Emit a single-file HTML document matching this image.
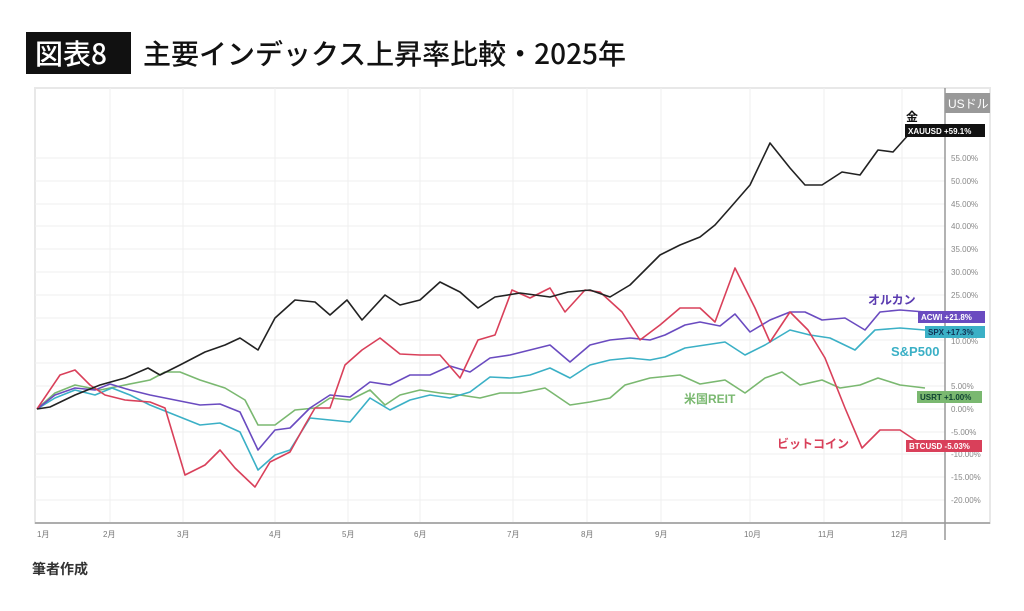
<!DOCTYPE html>
<html><head><meta charset="utf-8"><style>
body{margin:0;background:#fff;width:1024px;height:606px;overflow:hidden;font-family:"Liberation Sans","Noto Sans CJK JP",sans-serif;}
</style></head><body>
<svg width="1024" height="606" xmlns="http://www.w3.org/2000/svg" font-family="Liberation Sans, Noto Sans CJK JP, sans-serif">
<rect x="26" y="32" width="105" height="42" fill="#111"/>
<text x="35" y="64" font-size="28" fill="#fff" font-weight="500" font-family="Noto Sans CJK JP, sans-serif">図表8</text>
<text x="143" y="64" font-size="28" fill="#111" font-weight="500" font-family="Noto Sans CJK JP, sans-serif">主要インデックス上昇率比較・2025年</text>
<rect x="35" y="88" width="955" height="435" fill="none" stroke="#e8e8e8" stroke-width="2"/>
<g stroke="#efefef" stroke-width="1">
<line x1="110" y1="88" x2="110" y2="523"/><line x1="183" y1="88" x2="183" y2="523"/><line x1="275" y1="88" x2="275" y2="523"/><line x1="348" y1="88" x2="348" y2="523"/><line x1="420" y1="88" x2="420" y2="523"/><line x1="513" y1="88" x2="513" y2="523"/><line x1="587" y1="88" x2="587" y2="523"/><line x1="661" y1="88" x2="661" y2="523"/><line x1="750" y1="88" x2="750" y2="523"/><line x1="824" y1="88" x2="824" y2="523"/><line x1="902" y1="88" x2="902" y2="523"/>
<line x1="35" y1="158" x2="945" y2="158"/><line x1="35" y1="181" x2="945" y2="181"/><line x1="35" y1="204" x2="945" y2="204"/><line x1="35" y1="226" x2="945" y2="226"/><line x1="35" y1="249" x2="945" y2="249"/><line x1="35" y1="272" x2="945" y2="272"/><line x1="35" y1="295" x2="945" y2="295"/><line x1="35" y1="318" x2="945" y2="318"/><line x1="35" y1="340" x2="945" y2="340"/><line x1="35" y1="363" x2="945" y2="363"/><line x1="35" y1="386" x2="945" y2="386"/><line x1="35" y1="409" x2="945" y2="409"/><line x1="35" y1="432" x2="945" y2="432"/><line x1="35" y1="454" x2="945" y2="454"/><line x1="35" y1="477" x2="945" y2="477"/><line x1="35" y1="500" x2="945" y2="500"/>
</g>
<line x1="945" y1="88" x2="945" y2="540" stroke="#999" stroke-width="1.5"/>
<line x1="35" y1="523" x2="990" y2="523" stroke="#999" stroke-width="1.5"/>
<g font-size="8" fill="#777">
<text x="37" y="537">1月</text><text x="103" y="537">2月</text><text x="177" y="537">3月</text><text x="269" y="537">4月</text><text x="342" y="537">5月</text><text x="414" y="537">6月</text><text x="507" y="537">7月</text><text x="581" y="537">8月</text><text x="655" y="537">9月</text><text x="744" y="537">10月</text><text x="818" y="537">11月</text><text x="891" y="537">12月</text>
</g>
<g font-size="8" fill="#888">
<text x="951" y="161">55.00%</text><text x="951" y="184">50.00%</text><text x="951" y="207">45.00%</text><text x="951" y="229">40.00%</text><text x="951" y="252">35.00%</text><text x="951" y="275">30.00%</text><text x="951" y="298">25.00%</text><text x="951" y="344">10.00%</text><text x="951" y="389">5.00%</text><text x="951" y="412">0.00%</text><text x="951" y="435">-5.00%</text><text x="951" y="457">-10.00%</text><text x="951" y="480">-15.00%</text><text x="951" y="503">-20.00%</text>
</g>
<rect x="945" y="93" width="45" height="20" fill="#999"/>
<text x="948" y="108" font-size="12" fill="#fff">USドル</text>
<g fill="none" stroke-width="1.6" stroke-linejoin="round">
<polyline stroke="#7ab870" points="37,409 55,393 75,385 100,390 125,385 150,380 165,372 180,372 200,380 225,388 245,400 258,425 275,425 295,410 315,408 330,398 350,400 370,390 385,405 400,395 420,390 440,393 460,395 480,398 500,393 520,393 545,388 570,405 590,402 610,398 625,385 650,378 680,375 700,384 725,380 745,393 765,378 782,372 800,385 822,380 840,388 860,385 878,378 900,385 925,388"/>
<polyline stroke="#3bb0c6" points="37,409 55,398 75,390 95,395 112,388 130,395 150,405 175,415 200,425 220,423 240,432 258,470 275,455 290,450 310,418 330,420 350,422 370,398 390,410 410,400 430,395 450,398 470,392 490,377 510,378 530,375 550,368 570,378 590,365 610,360 630,358 650,360 665,357 685,348 705,345 725,342 745,355 765,345 790,330 810,335 830,338 855,350 875,330 900,328 925,330"/>
<polyline stroke="#6a4bc0" points="37,409 55,395 75,388 95,390 110,384 130,390 150,395 175,400 200,405 220,404 240,412 258,450 275,430 290,428 310,408 330,395 350,397 370,382 390,385 410,375 430,375 450,366 470,372 490,358 510,355 530,350 550,345 570,362 590,345 610,340 630,338 650,340 665,335 685,325 700,322 720,326 735,314 750,332 770,320 790,312 805,312 822,320 845,318 865,330 880,312 900,310 925,312"/>
<polyline stroke="#d9405a" points="37,409 60,375 75,370 90,385 105,395 125,400 150,402 165,408 185,475 205,465 220,450 235,468 255,487 270,462 290,452 305,425 315,408 330,408 345,365 362,350 380,338 400,354 420,355 440,355 460,378 478,340 495,335 512,290 530,298 550,288 565,312 585,290 600,292 622,312 640,340 660,325 680,308 700,308 715,322 735,268 755,308 770,342 790,312 808,330 825,358 845,408 862,448 880,430 900,430 915,440 925,445"/>
<polyline stroke="#222" points="37,409 50,407 75,395 100,385 125,378 148,368 160,375 180,365 205,352 225,345 240,338 258,350 275,318 295,300 315,302 330,315 347,300 362,320 385,295 400,305 420,300 440,282 460,292 478,308 495,297 520,293 550,297 568,292 590,290 610,297 630,285 640,275 660,255 680,245 700,237 715,225 730,208 750,185 770,143 790,168 805,185 822,185 842,172 860,175 878,150 893,152 910,133 925,128"/>
</g>
<g font-size="8" font-weight="bold" fill="#fff">
<rect x="905" y="124" width="80" height="13" fill="#111"/><text x="908" y="134">XAUUSD  +59.1%</text>
<rect x="918" y="311" width="67" height="12" fill="#6a4bc0"/><text x="921" y="320">ACWI  +21.8%</text>
<rect x="925" y="326" width="60" height="12" fill="#3bb0c6"/><text x="928" y="335" fill="#135">SPX  +17.3%</text>
<rect x="917" y="391" width="65" height="12" fill="#7ab870"/><text x="920" y="400" fill="#143">USRT  +1.00%</text>
<rect x="906" y="440" width="76" height="12" fill="#d9405a"/><text x="909" y="449">BTCUSD  -5.03%</text>
</g>
<g font-size="12" font-weight="bold">
<text x="906" y="121" fill="#111">金</text>
<text x="868" y="304" fill="#5a3bb0">オルカン</text>
<text x="891" y="356" fill="#3bb0c6" font-size="13">S&amp;P500</text>
<text x="684" y="403" fill="#7ab870">米国REIT</text>
<text x="777" y="448" fill="#d9405a">ビットコイン</text>
</g>
<text x="32" y="574" font-size="14" fill="#333" font-weight="bold" font-family="Noto Sans CJK JP, sans-serif">筆者作成</text>
</svg>
</body></html>
